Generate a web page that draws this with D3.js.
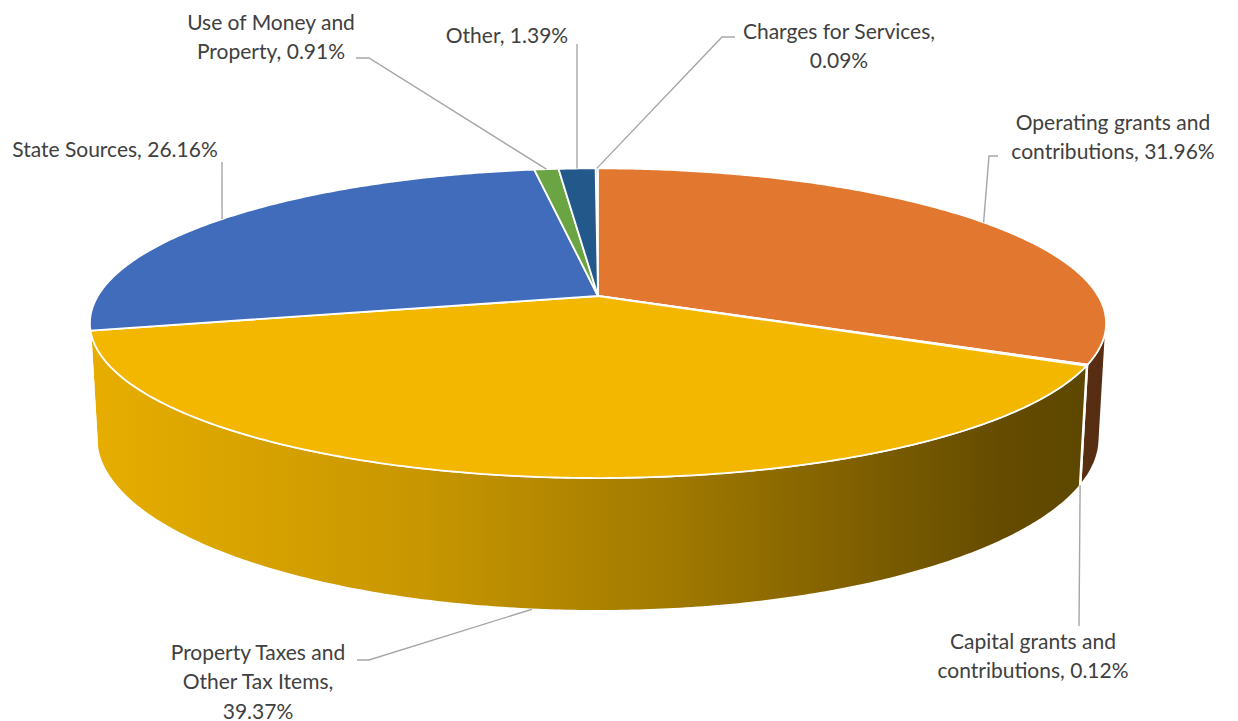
<!DOCTYPE html>
<meta charset="utf-8">
<script src="https://d3js.org/d3.v7.min.js"></script>
<style>
  body { margin: 0; background: #fff; }
  .lbl { font-family: Lato, "Open Sans", sans-serif; font-size: 21px; fill: #404040; }
</style>
<div id="chart"></div>
<script>
  // data, clockwise from 12 o'clock
  const categories = ["Charges for Services", "Operating grants and contributions", "Capital grants and contributions",
    "Property Taxes and Other Tax Items", "State Sources", "Use of Money and Property", "Other"];
  const shares = [0.09, 31.96, 0.12, 39.37, 26.16, 0.91, 1.39];
  const colors = ["#5793ca", "#e2772f", "#9c9c9c", "#f3b700", "#416cbb", "#6ba543", "#23598a"];

  // label text lines + where they sit (layout only)
  const labelLines = [
    ["Charges for Services,", "0.09%"],
    ["Operating grants and", "contributions, 31.96%"],
    ["Capital grants and", "contributions, 0.12%"],
    ["Property Taxes and", "Other Tax Items,", "39.37%"],
    ["State Sources, 26.16%"],
    ["Use of Money and", "Property, 0.91%"],
    ["Other, 1.39%"]
  ];
  const labelPos = [
    { x: 839, y: 30, lead: [[735, 37], [722, 37]], edge: "top" },
    { x: 1113, y: 121, lead: [[998, 156], [989, 156]], edge: "top" },
    { x: 1033, y: 640, lead: [[1079, 626]], edge: "bottom" },
    { x: 258, y: 651, lead: [[357, 660], [369, 660]], edge: "bottom" },
    { x: 115, y: 148, lead: [[222, 162]], edge: "top" },
    { x: 271, y: 21, lead: [[356, 58], [369, 58]], edge: "top" },
    { x: 507, y: 34, lead: [[577, 44]], edge: "top" }
  ];

  const W = 1238, H = 721;
  const svg = d3.select("#chart").append("svg").attr("width", W).attr("height", H);

  // simple perspective camera for the 3d disc
  const cx = 598, cy = 296, k = 2716, dist = 5.43, alpha = Math.asin(0.3), thick = 0.238;
  const sa = Math.sin(alpha), ca = Math.cos(alpha);
  function proj(phi, r, y) {
    const X = r * Math.sin(phi), Z = -r * Math.cos(phi);
    const depth = dist - y * sa - Z * ca;
    const up = y * ca - Z * sa;
    return [cx + k * X / depth, cy - k * up / depth];
  }
  const visA = Math.acos(-1 / (dist * ca)), visB = 2 * Math.PI - visA;

  const a0 = -shares[0] / 100 * 2 * Math.PI;
  const pie = d3.pie().sort(null).startAngle(a0).endAngle(a0 + 2 * Math.PI);
  const arcs = pie(shares);

  const line = d3.line();
  function arcPts(s, e, y) {
    const n = Math.max(2, Math.ceil((e - s) / 0.01));
    return d3.range(n + 1).map(i => proj(s + (e - s) * i / n, 1, y));
  }

  // side shading: horizontal gradient, lighter on the left
  const defs = svg.append("defs");
  const shade = [[0, 0.95], [0.33, 0.82], [0.56, 0.67], [0.9, 0.41], [1, 0.38]];
  colors.forEach((c, i) => {
    const g = defs.append("linearGradient").attr("id", "side" + i)
      .attr("gradientUnits", "userSpaceOnUse")
      .attr("x1", proj(-Math.PI / 2, 1, 0)[0] - 8).attr("x2", proj(Math.PI / 2, 1, 0)[0] + 8)
      .attr("y1", 0).attr("y2", 0);
    const rgb = d3.rgb(c);
    shade.forEach(([t, f]) => {
      g.append("stop").attr("offset", t)
        .attr("stop-color", d3.rgb(rgb.r * f, rgb.g * f, rgb.b * f).formatHex());
    });
  });

  // outer walls, only the part facing the viewer
  svg.append("g").selectAll("path")
    .data(arcs.map((d, i) => ({ ...d, i })).filter(d => d.endAngle > visA && d.startAngle < visB))
    .join("path")
    .attr("d", d => {
      const s = Math.max(d.startAngle, visA), e = Math.min(d.endAngle, visB);
      const pts = arcPts(s, e, 0).concat(arcPts(s, e, -thick).reverse());
      return line(pts) + "Z";
    })
    .attr("fill", d => `url(#side${d.i})`)
    .attr("stroke", "#fff").attr("stroke-width", 1.5).attr("stroke-linejoin", "round");

  // top faces
  svg.append("g").selectAll("path")
    .data(arcs)
    .join("path")
    .attr("d", d => line([proj(0, 0, 0)].concat(arcPts(d.startAngle, d.endAngle, 0))) + "Z")
    .attr("fill", (d, i) => colors[i])
    .attr("stroke", "#fff").attr("stroke-width", 1.8).attr("stroke-linejoin", "round");

  // leader lines to the rim at each slice's middle angle
  const leaders = svg.append("g").attr("fill", "none").attr("stroke", "#a6a6a6").attr("stroke-width", 1.4);
  arcs.forEach((d, i) => {
    const mid = (d.startAngle + d.endAngle) / 2;
    const p = labelPos[i];
    const end = proj(mid, 1, p.edge === "top" ? 0 : -thick);
    leaders.append("path").attr("d", line(p.lead.concat([end])));
  });

  // labels
  const lh = 29.5;
  const lg = svg.append("g");
  labelLines.forEach((lines, i) => {
    const t = lg.append("text").attr("class", "lbl").attr("text-anchor", "middle");
    lines.forEach((s, j) => {
      t.append("tspan").attr("x", labelPos[i].x).attr("y", labelPos[i].y + j * lh)
        .attr("dominant-baseline", "central").text(s);
    });
  });
</script>
